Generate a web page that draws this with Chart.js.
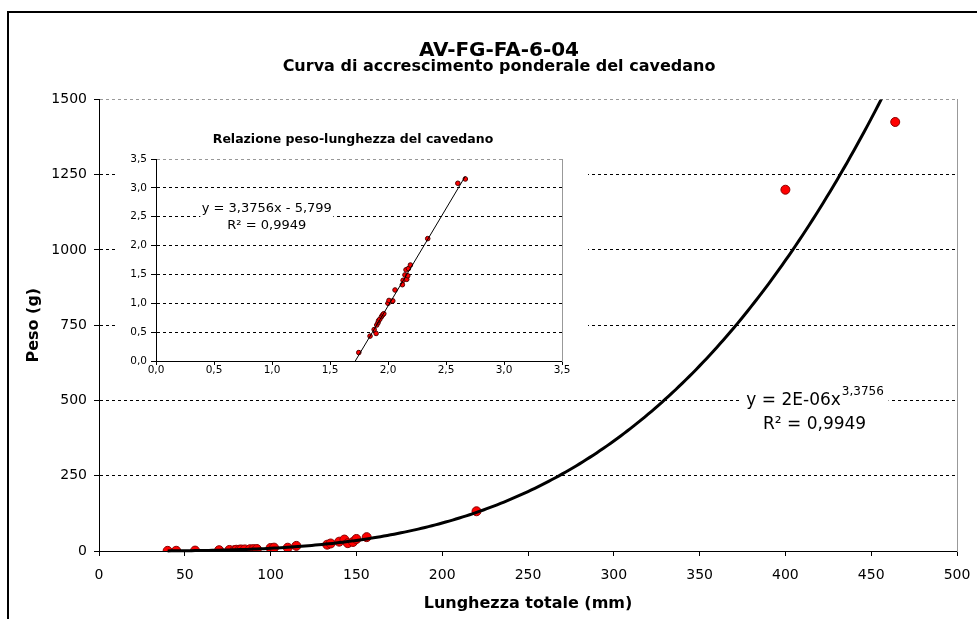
<!DOCTYPE html>
<html>
<head>
<meta charset="utf-8">
<script src="https://cdn.jsdelivr.net/npm/chart.js@4"></script>
<style>
  html, body { margin: 0; padding: 0; background: #fff; overflow: hidden; }
  #wrap { position: relative; width: 977px; height: 619px; }
  #main { position: absolute; left: 0; top: 0; }
  #inset { position: absolute; left: 118px; top: 108px; background: #fff; }
  #frame { position: absolute; left: 7px; top: 11px; width: 1000px; height: 700px; border: 2px solid #000; pointer-events: none; }
</style>
</head>
<body>
<div id="wrap">
  <canvas id="main" width="977" height="619" style="width:977px;height:619px"></canvas>
  <canvas id="inset" width="470" height="288" style="width:470px;height:288px"></canvas>
  <div id="frame"></div>
</div>
<script>
// dati: lunghezza totale (mm) e peso (g)
const lunghezza = [40, 45, 56, 70, 76, 79, 80, 82, 83, 85, 88, 90, 92, 100, 102, 110, 115, 133, 135, 140, 143, 145, 148, 150, 156, 220, 400, 464]
const peso = [0.5, 0.8, 1.4, 2.7, 3.5, 3.0, 4.2, 4.6, 5.0, 5.3, 5.9, 6.3, 6.6, 10, 11.2, 11, 17, 21, 25, 31, 38, 26, 30, 40, 46, 132, 1200, 1425]

// etichette degli assi
const tickX = [0, 50, 100, 150, 200, 250, 300, 350, 400, 450, 500]
const tickY = [0, 250, 500, 750, 1000, 1250, 1500]
const tickLog = [0, 0.5, 1, 1.5, 2, 2.5, 3, 3.5]

// retta di regressione log-log (dal grafico): log10(P) = a * log10(L) + b
const coeffA = 3.3756
const coeffB = -5.799

const FONT = "'DejaVu Sans', Verdana, sans-serif"
Chart.defaults.font.family = FONT
Chart.defaults.color = '#000'

// punti del grafico principale
let puntiMain = []
for (let i in lunghezza) {
    puntiMain.push({ x: lunghezza[i], y: peso[i] })
}

// curva di potenza
let curvaMain = []
let lMin = lunghezza[0]
let lMax = lunghezza[lunghezza.length - 1]
for (let l = lMin; l <= lMax; l += 2) {
    curvaMain.push({ x: l, y: Math.pow(10, coeffB) * Math.pow(l, coeffA) })
}

// punti del grafico log-log (solo quelli con log >= 0)
let puntiLog = []
for (let i in lunghezza) {
    let ly = Math.log10(peso[i])
    if (ly >= 0) puntiLog.push({ x: Math.log10(lunghezza[i]), y: ly })
}
let xFine = Math.log10(lMax)
let rettaLog = [
    { x: -coeffB / coeffA, y: 0 },
    { x: xFine, y: coeffA * xFine + coeffB }
]

// testo dell'equazione con sfondo bianco
const equazione = {
    id: 'equazione',
    beforeDatasetsDraw(chart, args, o) {
        const ctx = chart.ctx
        const cx = chart.scales.x.getPixelForValue(o.posX)
        const by = chart.scales.y.getPixelForValue(o.posY)
        ctx.save()
        ctx.fillStyle = '#fff'
        ctx.fillRect(cx - o.boxW / 2, by - o.boxTop, o.boxW, o.boxTop + o.boxBottom)
        ctx.fillStyle = '#000'
        ctx.textBaseline = 'alphabetic'
        ctx.font = o.size + 'px ' + FONT
        let w1 = ctx.measureText(o.riga1).width
        let ws = 0
        if (o.esponente) {
            ctx.font = o.supSize + 'px ' + FONT
            ws = ctx.measureText(o.esponente).width
        }
        let x0 = cx - (w1 + ws) / 2
        ctx.textAlign = 'left'
        ctx.font = o.size + 'px ' + FONT
        ctx.fillText(o.riga1, x0, by)
        if (o.esponente) {
            ctx.font = o.supSize + 'px ' + FONT
            ctx.fillText(o.esponente, x0 + w1 + 1, by - o.supRise)
        }
        ctx.font = o.size + 'px ' + FONT
        ctx.textAlign = 'center'
        ctx.fillText(o.riga2, cx, by + o.gap)
        ctx.restore()
    }
}

const virgola = v => v.toFixed(1).replace('.', ',')
const intero = v => String(v)

// grafico principale
new Chart(document.getElementById('main'), {
    type: 'scatter',
    data: {
        datasets: [
            {
                type: 'line',
                data: curvaMain,
                borderColor: '#000',
                borderWidth: 3,
                pointRadius: 0,
                tension: 0,
                clip: { left: 5, top: 0, right: 5, bottom: 5 }
            },
            {
                data: puntiMain,
                backgroundColor: '#ff0000',
                borderColor: '#8b0000',
                borderWidth: 1,
                pointRadius: 4.5
            }
        ]
    },
    options: {
        responsive: false,
        animation: false,
        layout: { padding: { left: 21, right: 0, top: 0, bottom: 0 } },
        plugins: {
            legend: { display: false },
            tooltip: { enabled: false },
            title: {
                display: true,
                text: 'AV-FG-FA-6-04',
                font: { size: 20, weight: 'bold', lineHeight: 0.8 },
                padding: { top: 43, bottom: 0 }
            },
            subtitle: {
                display: true,
                text: 'Curva di accrescimento ponderale del cavedano',
                color: '#000',
                font: { size: 16, weight: 'bold', lineHeight: 0.9 },
                padding: { top: 1, bottom: 25 }
            },
            equazione: {
                posX: 417, posY: 485,
                riga1: 'y = 2E-06x', esponente: '3,3756', riga2: 'R² = 0,9949',
                size: 17, supSize: 12, supRise: 10, gap: 24,
                boxW: 148, boxTop: 17, boxBottom: 29
            }
        },
        scales: {
            x: {
                type: 'linear',
                min: 0,
                max: 500,
                afterBuildTicks: s => { s.ticks = tickX.map(v => ({ value: v })) },
                afterFit: s => { s.height = 68; s.paddingRight = 0; s.paddingLeft = 0 },
                ticks: { font: { size: 14 }, padding: 11, maxRotation: 0, callback: intero },
                grid: { drawOnChartArea: false, tickLength: 5, tickColor: '#000' },
                border: { color: '#000', width: 1 },
                title: {
                    display: true,
                    text: 'Lunghezza totale (mm)',
                    font: { size: 16, weight: 'bold' },
                    padding: { top: 0, bottom: 6 }
                }
            },
            y: {
                min: 0,
                max: 1500,
                afterBuildTicks: s => { s.ticks = tickY.map(v => ({ value: v })) },
                afterFit: s => { s.width = 78 },
                ticks: { font: { size: 14 }, padding: 7, callback: intero },
                grid: {
                    color: c => c.tick && c.tick.value === 1500 ? '#999' : '#000',
                    tickLength: 5,
                    tickColor: '#000'
                },
                border: { color: '#000', width: 1, dash: [3, 3] },
                title: {
                    display: true,
                    text: 'Peso (g)',
                    font: { size: 16, weight: 'bold' },
                    padding: { top: 3, bottom: 0 }
                }
            },
            yDestra: {
                position: 'right',
                afterFit: s => { s.width = 20 },
                ticks: { display: false },
                grid: { drawOnChartArea: false, drawTicks: false },
                border: { color: '#999', width: 1 }
            }
        }
    },
    plugins: [equazione]
})

// grafico inserito log-log
new Chart(document.getElementById('inset'), {
    type: 'scatter',
    data: {
        datasets: [
            {
                type: 'line',
                data: rettaLog,
                borderColor: '#000',
                borderWidth: 1,
                pointRadius: 0
            },
            {
                data: puntiLog,
                backgroundColor: '#ff0000',
                borderColor: '#500000',
                borderWidth: 1,
                pointRadius: 2.3
            }
        ]
    },
    options: {
        responsive: false,
        animation: false,
        layout: { padding: 0 },
        plugins: {
            legend: { display: false },
            tooltip: { enabled: false },
            title: {
                display: true,
                text: 'Relazione peso-lunghezza del cavedano',
                font: { size: 12.5, weight: 'bold', lineHeight: 1.2 },
                padding: { top: 24, bottom: 12 }
            },
            equazione: {
                posX: 0.955, posY: 2.59,
                riga1: 'y = 3,3756x - 5,799', esponente: null, riga2: 'R² = 0,9949',
                size: 13, supSize: 9, supRise: 6, gap: 17.3,
                boxW: 133, boxTop: 13, boxBottom: 22
            }
        },
        scales: {
            x: {
                type: 'linear',
                min: 0,
                max: 3.5,
                afterBuildTicks: s => { s.ticks = tickLog.map(v => ({ value: v })) },
                afterFit: s => { s.height = 35; s.paddingRight = 0; s.paddingLeft = 0 },
                ticks: { font: { size: 10.5 }, padding: -1, maxRotation: 0, callback: virgola },
                grid: { drawOnChartArea: false, tickLength: 4, tickColor: '#000' },
                border: { color: '#000', width: 1 }
            },
            y: {
                min: 0,
                max: 3.5,
                afterBuildTicks: s => { s.ticks = tickLog.map(v => ({ value: v })) },
                afterFit: s => { s.width = 38 },
                ticks: { font: { size: 10.5 }, padding: 4, callback: virgola },
                grid: {
                    color: c => c.tick && c.tick.value === 3.5 ? '#999' : '#000',
                    tickLength: 5,
                    tickColor: '#000'
                },
                border: { color: '#000', width: 1, dash: [3, 3] }
            },
            yDestra: {
                position: 'right',
                afterFit: s => { s.width = 26 },
                ticks: { display: false },
                grid: { drawOnChartArea: false, drawTicks: false },
                border: { color: '#999', width: 1 }
            }
        }
    },
    plugins: [equazione]
})
</script>
</body>
</html>
